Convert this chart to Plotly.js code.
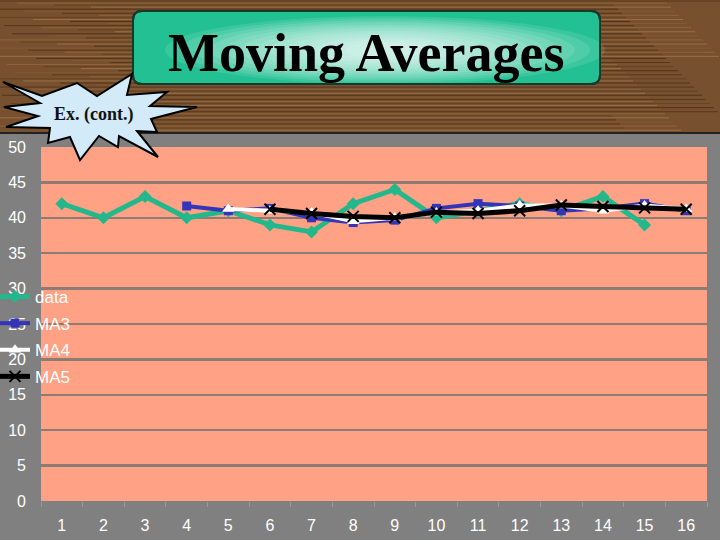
<!DOCTYPE html>
<html><head><meta charset="utf-8">
<script src="https://cdn.plot.ly/plotly-3.0.1.min.js"></script>
<style>html,body{margin:0;padding:0;background:#808080;} #chart{width:720px;height:540px;}</style>
</head><body><div id="chart"></div>
<script>
// ---- data ----
const categories = ['1','2','3','4','5','6','7','8','9','10','11','12','13','14','15','16'];
const dataX = ['1','2','3','4','5','6','7','8','9','10','11','12','13','14','15'];
const dataValues = [42,40,43,40,41,39,38,42,44,40,41,42,41,43,39];
const ma3X = ['4','5','6','7','8','9','10','11','12','13','14','15','16'];
const ma3Values = [41.67,41,41.33,40,39.33,39.67,41.33,42,41.67,41,41.33,42,41];
const ma4X = ['5','6','7','8','9','10','11','12','13','14','15','16'];
const ma4Values = [41.25,41,40.75,39.5,40,40.75,41,41.75,41.75,41,41.75,41.25];
const ma5X = ['6','7','8','9','10','11','12','13','14','15','16'];
const ma5Values = [41.2,40.6,40.2,40,40.8,40.6,41,41.8,41.6,41.4,41.2];
const seriesNames = ['data','MA3','MA4','MA5'];
const yTickVals = [0,5,10,15,20,25,30,35,40,45,50];
const titleText = 'Moving Averages';
const burstText = 'Ex. (cont.)';

// ---- geometry helpers (pixel -> paper) ----
const L = 41, T = 147, W = 666, H = 354;
const px = x => (x - L) / W;
const py = y => (T + H - y) / H;
const pathOf = pts => 'M ' + pts.map(p => px(p[0]).toFixed(5) + ',' + py(p[1]).toFixed(5)).join(' L ') + ' Z';

function roundRect(x0, y0, x1, y1, r) {
  const P = (x, y) => px(x).toFixed(5) + ',' + py(y).toFixed(5);
  return 'M ' + P(x0 + r, y0) + ' L ' + P(x1 - r, y0) + ' Q ' + P(x1, y0) + ' ' + P(x1, y0 + r) +
    ' L ' + P(x1, y1 - r) + ' Q ' + P(x1, y1) + ' ' + P(x1 - r, y1) +
    ' L ' + P(x0 + r, y1) + ' Q ' + P(x0, y1) + ' ' + P(x0, y1 - r) +
    ' L ' + P(x0, y0 + r) + ' Q ' + P(x0, y0) + ' ' + P(x0 + r, y0) + ' Z';
}

const shapes = [];
// wood background
shapes.push({type:'rect', xref:'paper', yref:'paper', x0:px(-2), x1:px(722), y0:py(133), y1:py(-2),
  fillcolor:'#76502F', line:{width:0}, layer:'below'});
const grainColors = ['#5A381C','#8E643B','#664321','#9A7045','#53331A','#845A33'];
for (let i = 0; i < 64; i++) {
  const y = 1 + i * 2.05;
  const xs = (i * 37) % 140 - 20;
  const xe = 720 - ((i * 53) % 110);
  shapes.push({type:'line', xref:'paper', yref:'paper', x0:px(xs), x1:px(xe), y0:py(y), y1:py(y),
    line:{color:grainColors[i % grainColors.length], width:1}, layer:'below'});
}
// dark separator line
shapes.push({type:'line', xref:'paper', yref:'paper', x0:px(-2), x1:px(722), y0:py(133), y1:py(133),
  line:{color:'#222', width:2}, layer:'below'});

// title box
shapes.push({type:'path', xref:'paper', yref:'paper', path:roundRect(133, 11, 600, 84, 9),
  fillcolor:'#22C092', line:{color:'#143a2c', width:2}, layer:'above'});
for (let k = 0; k < 14; k++) {
  const rx = 220 - k * 15, ry = 34 - k * 2.1;
  shapes.push({type:'circle', xref:'paper', yref:'paper', x0:px(385 - rx), x1:px(385 + rx),
    y0:py(50 + ry), y1:py(50 - ry), fillcolor:'rgba(255,255,255,0.11)', line:{width:0}, layer:'above'});
}
// redraw the border on top of the glow
shapes.push({type:'path', xref:'paper', yref:'paper', path:roundRect(133, 11, 600, 84, 9),
  fillcolor:'rgba(0,0,0,0)', line:{color:'#143a2c', width:2}, layer:'above'});

// starburst
const star = [[3,82],[42,96],[77,83],[97,96],[132,74],[127,95],[167,92],[150,106],[197,107],[151,119],
  [157,132],[137,131],[158,157],[119,136],[118,147],[99,136],[80,160],[70,137],[48,143],[50,128],
  [6,127],[38,116],[4,107],[40,103]];
shapes.push({type:'path', xref:'paper', yref:'paper', path:pathOf(star),
  fillcolor:'#D3EAF9', line:{color:'#000', width:2}, layer:'above'});

const annotations = [
  {xref:'paper', yref:'paper', x:px(366), y:py(53), text:'<b>' + titleText + '</b>', showarrow:false,
    xanchor:'center', yanchor:'middle', font:{family:'Liberation Serif, Times New Roman, serif', size:54, color:'#000'}},
  {xref:'paper', yref:'paper', x:px(94), y:py(115), text:'<b>' + burstText + '</b>', showarrow:false,
    xanchor:'center', yanchor:'middle', font:{family:'Liberation Serif, Times New Roman, serif', size:18, color:'#111'}}
];

const traces = [
  {x:dataX, y:dataValues, name:seriesNames[0], legendgroup:'a', mode:'lines+markers',
    line:{color:'#22B88C', width:5}, marker:{symbol:'diamond', size:10, color:'#22B88C'}},
  {x:ma3X, y:ma3Values, name:seriesNames[1], legendgroup:'b', mode:'lines+markers',
    line:{color:'#3434B8', width:4}, marker:{symbol:'square', size:9, color:'#3434B8'}},
  {x:ma4X, y:ma4Values, name:seriesNames[2], legendgroup:'c', mode:'lines+markers',
    line:{color:'#FFFFFF', width:4}, marker:{symbol:'triangle-up', size:11, color:'#FFFFFF'}},
  {x:ma5X, y:ma5Values, name:seriesNames[3], legendgroup:'d', mode:'lines+markers',
    line:{color:'#000000', width:5}, marker:{symbol:'x-thin', size:11, color:'#000', line:{color:'#000', width:2}}}
];

const layout = {
  width:720, height:540,
  margin:{l:L, r:720 - L - W, t:T, b:540 - T - H, pad:0, autoexpand:false},
  paper_bgcolor:'#808080', plot_bgcolor:'#FFA185',
  showlegend:true,
  legend:{x:px(-5), y:py(279), xanchor:'left', yanchor:'top', bgcolor:'rgba(0,0,0,0)',
    font:{family:'Liberation Sans, Arial, sans-serif', size:17, color:'#FFFFFF'}, tracegroupgap:1.5, itemwidth:30},
  xaxis:{type:'category', categoryarray:categories, categoryorder:'array', range:[-0.5, 15.5], automargin:false,
    showgrid:false, zeroline:false, showline:false, ticks:'outside', tickson:'boundaries', ticklen:5,
    tickcolor:'#9a9a9a', tickwidth:1, ticklabelstandoff:13,
    tickfont:{family:'Liberation Sans, Arial, sans-serif', size:16, color:'#FFFFFF'}},
  yaxis:{range:[0,50], tickvals:yTickVals, showgrid:true, gridcolor:'#8E7C74', gridwidth:2.5, automargin:false,
    zeroline:false, showline:false, ticks:'', ticklabelstandoff:14,
    tickfont:{family:'Liberation Sans, Arial, sans-serif', size:16, color:'#FFFFFF'}},
  shapes:shapes, annotations:annotations,
  font:{family:'Liberation Sans, Arial, sans-serif'}
};
Plotly.newPlot('chart', traces, layout, {displayModeBar:false, staticPlot:true});
</script></body></html>
